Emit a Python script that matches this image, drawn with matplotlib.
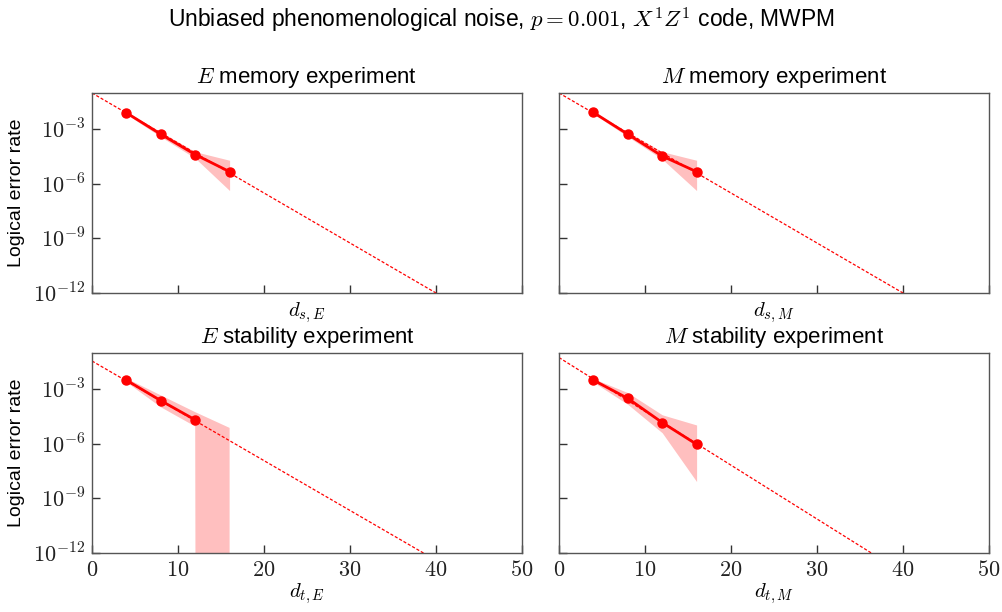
import matplotlib
matplotlib.use("Agg")
import matplotlib.pyplot as plt
import numpy as np

plt.rcParams['font.family'] = ['Liberation Sans', 'DejaVu Sans']
plt.rcParams['mathtext.fontset'] = 'cm'

# distances
d = [4, 8, 12, 16]

# E memory experiment
e_mem = [8.1e-3, 5.4e-4, 4.1e-5, 4.7e-6]
e_mem_lo = [6.8e-3, 3.9e-4, 2.6e-5, 4.3e-7]
e_mem_hi = [9.6e-3, 7.2e-4, 5.9e-5, 2.0e-5]

# M memory experiment
m_mem = [8.5e-3, 5.4e-4, 3.4e-5, 4.7e-6]
m_mem_lo = [7.2e-3, 4.0e-4, 2.3e-5, 4.3e-7]
m_mem_hi = [1.0e-2, 7.0e-4, 5.9e-5, 2.0e-5]

# E stability experiment (no failures observed at d=16)
e_stab = [3.2e-3, 2.4e-4, 2.1e-5, np.nan]
e_stab_lo = [2.5e-3, 1.05e-4, 9.1e-6, 0.0]
e_stab_hi = [4.0e-3, 4.7e-4, 5.6e-5, 7.6e-6]

# M stability experiment
m_stab = [3.2e-3, 3.2e-4, 1.5e-5, 9.5e-7]
m_stab_lo = [2.5e-3, 1.5e-4, 4.1e-6, 8.5e-9]
m_stab_hi = [3.9e-3, 6.6e-4, 4.0e-5, 1.1e-5]

# fitted lines: log10(rate) = intercept + slope * d
fits = {
    'e_mem': (-1.0, -0.275),
    'm_mem': (-1.0, -0.275),
    'e_stab': (-1.44, -0.274),
    'm_stab': (-1.25, -0.296),
}

xticks = [0, 10, 20, 30, 40, 50]
yticks = [1e-12, 1e-9, 1e-6, 1e-3]

fig = plt.figure(figsize=(10.03, 6.12), dpi=100)
W, H = 1003, 612
boxes = [(92, 93), (559, 93), (92, 353), (559, 353)]
panels = [
    ('$E$ memory experiment', '$d_{s,E}$', e_mem, e_mem_lo, e_mem_hi, 'e_mem'),
    ('$M$ memory experiment', '$d_{s,M}$', m_mem, m_mem_lo, m_mem_hi, 'm_mem'),
    ('$E$ stability experiment', '$d_{t,E}$', e_stab, e_stab_lo, e_stab_hi, 'e_stab'),
    ('$M$ stability experiment', '$d_{t,M}$', m_stab, m_stab_lo, m_stab_hi, 'm_stab'),
]

for i, ((x0, y0), (title, xlab, y, lo, hi, key)) in enumerate(zip(boxes, panels)):
    ax = fig.add_axes([x0 / W, 1 - (y0 + 200) / H, 430 / W, 200 / H])
    ax.set_yscale('log')
    ax.fill_between(d, lo, hi, color='#ff0000', alpha=0.25, lw=0)
    a, b = fits[key]
    xf = np.array([0, 50])
    ax.plot(xf, 10 ** (a + b * xf), color='#ff0000', lw=0.9, ls=(0, (2.5, 1.5)))
    ax.plot(d, y, color='#ff0000', lw=2, marker='o', ms=6.5)
    ax.set_xlim(0, 50)
    ax.set_ylim(1e-12, 1e-1)
    ax.set_xticks(xticks)
    ax.set_yticks(yticks)
    ax.minorticks_off()
    ax.tick_params(direction='in', length=6, width=1, color='#333333',
                   labelsize=16, labelcolor='#222222', pad=5)
    if i < 2:
        ax.set_xticklabels([])
    else:
        ax.set_xticklabels(['$%d$' % t for t in xticks])
    if i % 2 == 1:
        ax.set_yticklabels([])
    else:
        ax.set_yticklabels(['$10^{%d}$' % int(np.log10(t)) for t in yticks])
        ax.set_ylabel('Logical error rate', fontsize=14, labelpad=6)
    ax.set_xlabel(xlab, fontsize=15, labelpad=0)
    ax.set_title(title, fontsize=16, pad=7)
    for s in ax.spines.values():
        s.set_color('#555555')
        s.set_linewidth(1)

fig.suptitle('Unbiased phenomenological noise, $p = 0.001$, $X^1Z^1$ code, MWPM',
             fontsize=16.5, y=0.99)
fig.savefig('out.png', dpi=100)
